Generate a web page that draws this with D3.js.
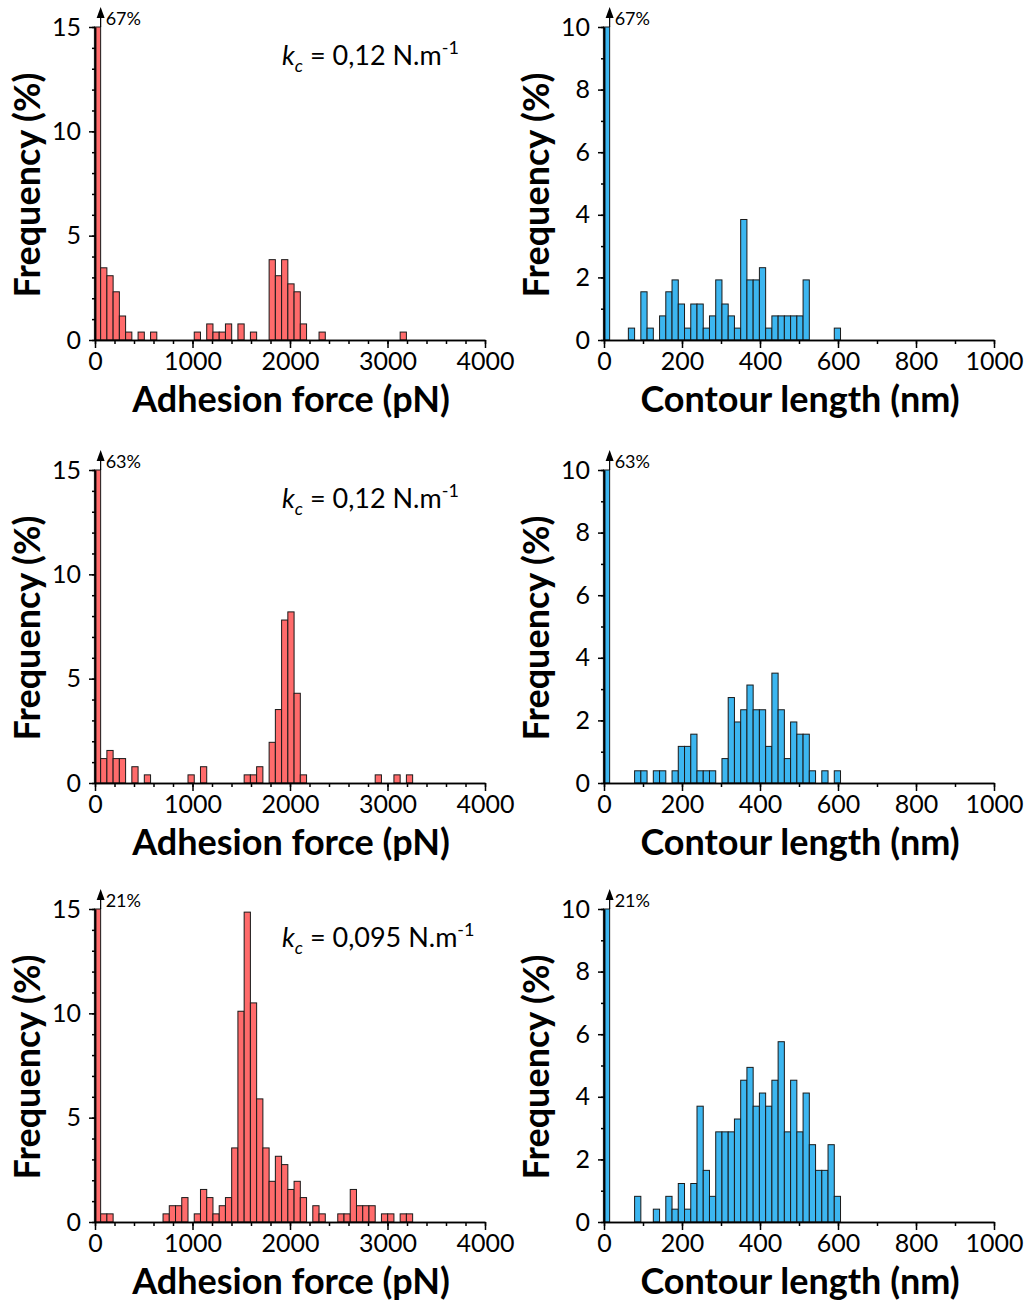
<!DOCTYPE html>
<html>
<head>
<meta charset="utf-8">
<script src="https://d3js.org/d3.v7.min.js"></script>
<style>
  body { margin: 0; background: #fff; }
  text { font-family: Lato, "Open Sans", sans-serif; fill: #000; }
</style>
</head>
<body>
<script>

  // bin start (pN) and frequency (%) of adhesion force histograms, bin = 64 pN
  var force1Start = [0, 64, 128, 192, 256, 320, 448, 576, 1024, 1152, 1216, 1280, 1344, 1472, 1600,
                     1792, 1856, 1920, 1984, 2048, 2112, 2304, 3136];
  var force1Freq  = [67, 3.46, 3.08, 2.31, 1.15, 0.38, 0.38, 0.38, 0.38, 0.77, 0.38, 0.38, 0.77, 0.77, 0.38,
                     3.85, 3.08, 3.85, 2.69, 2.31, 0.77, 0.38, 0.38];

  var force2Start = [0, 64, 128, 192, 256, 384, 512, 960, 1088, 1536, 1600, 1664,
                     1792, 1856, 1920, 1984, 2048, 2112, 2880, 3072, 3200];
  var force2Freq  = [63, 1.17, 1.56, 1.17, 1.17, 0.78, 0.39, 0.39, 0.78, 0.39, 0.39, 0.78,
                     1.95, 3.52, 7.81, 8.2, 4.3, 0.39, 0.39, 0.39, 0.39];

  var force3Start = [0, 64, 128, 704, 768, 832, 896, 1024, 1088, 1152, 1216, 1280, 1344, 1408, 1472,
                     1536, 1600, 1664, 1728, 1792, 1856, 1920, 1984, 2048, 2112, 2240, 2304,
                     2496, 2560, 2624, 2688, 2752, 2816, 2944, 3008, 3136, 3200];
  var force3Freq  = [21, 0.39, 0.39, 0.39, 0.78, 0.78, 1.17, 0.39, 1.56, 1.17, 0.39, 0.78, 1.17, 3.55, 10.1,
                     14.85, 10.5, 5.9, 3.55, 1.95, 3.15, 2.75, 1.56, 1.95, 1.17, 0.78, 0.39,
                     0.39, 0.39, 1.56, 0.78, 0.78, 0.78, 0.39, 0.39, 0.39, 0.39];

  // bin start (nm) and frequency (%) of contour length histograms, bin = 16 nm
  var length1Start = [0, 64, 96, 112, 144, 160, 176, 192, 208, 224, 240, 256, 272, 288, 304, 320, 336,
                      352, 368, 384, 400, 416, 432, 448, 464, 480, 496, 512, 592];
  var length1Freq  = [67, 0.38, 1.54, 0.38, 0.77, 1.54, 1.92, 1.15, 0.38, 1.15, 1.15, 0.38, 0.77, 1.92, 1.15,
                      0.77, 0.38, 3.85, 1.92, 1.92, 2.31, 0.38, 0.77, 0.77, 0.77, 0.77, 0.77, 1.92, 0.38];

  var length2Start = [0, 80, 96, 128, 144, 176, 192, 208, 224, 240, 256, 272, 304, 320, 336, 352, 368,
                      384, 400, 416, 432, 448, 464, 480, 496, 512, 528, 560, 592];
  var length2Freq  = [63, 0.39, 0.39, 0.39, 0.39, 0.39, 1.17, 1.17, 1.56, 0.39, 0.39, 0.39, 0.78, 2.73, 1.95,
                      2.34, 3.13, 2.34, 2.34, 1.17, 3.51, 2.34, 0.78, 1.95, 1.56, 1.56, 0.39, 0.39, 0.39];

  var length3Start = [0, 80, 128, 160, 176, 192, 208, 224, 240, 256, 272, 288, 304, 320, 336, 352,
                      368, 384, 400, 416, 432, 448, 464, 480, 496, 512, 528, 544, 560, 576, 592];
  var length3Freq  = [21, 0.82, 0.41, 0.82, 0.41, 1.23, 0.41, 1.23, 3.7, 1.65, 0.82, 2.88, 2.88, 2.88, 3.29, 4.53,
                      4.94, 3.7, 4.12, 3.7, 4.53, 5.76, 2.88, 4.53, 2.88, 4.12, 2.47, 1.65, 1.65, 2.47, 0.82];

  var forceTicks = [0, 1000, 2000, 3000, 4000];
  var lengthTicks = [0, 200, 400, 600, 800, 1000];
  var forceFreqTicks = [0, 5, 10, 15];
  var lengthFreqTicks = [0, 2, 4, 6, 8, 10];
  var springLabels = ["0,12", "0,12", "0,095"];

  var svg = d3.select("body").append("svg")
    .attr("width", 1025)
    .attr("height", 1302);

  var rowBase = [340, 783, 1222];
  var plotH = 313;

  var forceRows = [[force1Start, force1Freq], [force2Start, force2Freq], [force3Start, force3Freq]];
  var lengthRows = [[length1Start, length1Freq], [length2Start, length2Freq], [length3Start, length3Freq]];

  var drawPanel = function (o) {
    var g = svg.append("g");

    var x = d3.scaleLinear().domain([0, o.xMax]).range([o.left, o.left + 390]);
    var y = d3.scaleLinear().domain([0, o.yMax]).range([o.base, o.base - plotH]);

    // bars
    g.selectAll("rect.bar")
      .data(o.starts)
      .enter().append("rect")
        .attr("class", "bar")
        .attr("x", function(d) { return x(d) - 0.6; })
        .attr("width", x(o.bin) - x(0))
        .attr("y", function(d, i) { return y(Math.min(o.freq[i], o.yMax)); })
        .attr("height", function(d, i) { return y(0) - y(Math.min(o.freq[i], o.yMax)); })
        .attr("fill", o.color)
        .attr("stroke", "#1a1a1a")
        .attr("stroke-width", 1);

    // off-scale arrow on the first bin
    var ax = x(o.bin) - 0.6;
    g.append("line")
      .attr("x1", ax).attr("x2", ax)
      .attr("y1", y(o.yMax)).attr("y2", y(o.yMax) - 10)
      .attr("stroke", "#000").attr("stroke-width", 1.2);
    g.append("path")
      .attr("d", "M" + (ax - 4) + "," + (y(o.yMax) - 9) + "L" + ax + "," + (y(o.yMax) - 20) +
                 "L" + (ax + 4) + "," + (y(o.yMax) - 9) + "Z")
      .attr("fill", "#000");
    g.append("text")
      .attr("x", ax + 5).attr("y", y(o.yMax) - 2)
      .attr("font-size", 18)
      .text(o.freq[0] + "%");

    // x axis
    g.append("g")
      .attr("transform", "translate(0," + o.base + ")")
      .call(d3.axisBottom(x).tickValues(d3.range(0, o.xMax + 1, o.xMinor)).tickSize(4).tickSizeOuter(0).tickFormat(""));
    var xMajor = g.append("g")
      .attr("transform", "translate(0," + o.base + ")")
      .call(d3.axisBottom(x).tickValues(o.xTicks).tickSize(8).tickSizeOuter(0).tickPadding(4)
        .tickFormat(d3.format("d")));
    xMajor.selectAll("text").attr("font-size", 25).attr("fill", "#000");

    // y axis
    g.append("g")
      .attr("transform", "translate(" + o.left + ",0)")
      .call(d3.axisLeft(y).tickValues(d3.range(0, o.yMax + 1, 1)).tickSize(3).tickSizeOuter(0).tickFormat(""));
    var yMajor = g.append("g")
      .attr("transform", "translate(" + o.left + ",0)")
      .call(d3.axisLeft(y).tickValues(o.yTicks).tickSize(6).tickSizeOuter(0).tickPadding(8));
    yMajor.selectAll("text").attr("font-size", 25).attr("fill", "#000");

    g.selectAll(".domain, .tick line").attr("stroke", "#000").attr("stroke-width", 1.5);

    // titles
    g.append("text")
      .attr("x", o.left + 196).attr("y", o.base + 72)
      .attr("text-anchor", "middle")
      .attr("font-size", 36).attr("font-weight", "bold")
      .text(o.xTitle);
    g.append("text")
      .attr("transform", "translate(" + (o.left - 55) + "," + (o.base - 155) + ") rotate(-90)")
      .attr("text-anchor", "middle")
      .attr("font-size", 36).attr("font-weight", "bold")
      .text("Frequency (%)");
  };

  forceRows.forEach(function(r, i) {
    drawPanel({
      left: 95, base: rowBase[i], xMax: 4000, xMinor: 200, bin: 64, yMax: 15,
      xTicks: forceTicks, yTicks: forceFreqTicks, starts: r[0], freq: r[1],
      color: "#ff6b6b", xTitle: "Adhesion force (pN)"
    });

    var t = svg.append("text")
      .attr("x", 282).attr("y", rowBase[i] - 275)
      .attr("font-size", 27);
    t.append("tspan").attr("font-style", "italic").text("k");
    t.append("tspan").attr("font-style", "italic").attr("font-size", 18).attr("dy", 7).text("c");
    t.append("tspan").attr("dy", -7).text(" = " + springLabels[i] + " N.m");
    t.append("tspan").attr("font-size", 18).attr("dy", -11).text("-1");
  });

  lengthRows.forEach(function(r, i) {
    drawPanel({
      left: 604, base: rowBase[i], xMax: 1000, xMinor: 100, bin: 16, yMax: 10,
      xTicks: lengthTicks, yTicks: lengthFreqTicks, starts: r[0], freq: r[1],
      color: "#3cb6f0", xTitle: "Contour length (nm)"
    });
  });

</script>
</body>
</html>
